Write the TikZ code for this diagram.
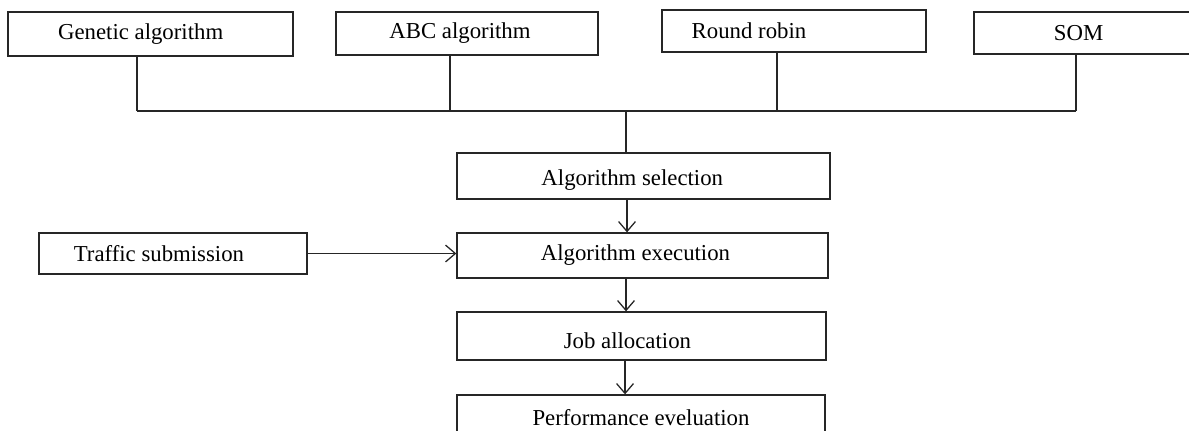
\documentclass[tikz,border=0pt]{standalone}
\usepackage{fontspec}
\setmainfont{Liberation Serif}
\usepackage{tikz}
\usetikzlibrary{positioning,arrows.meta}

\tikzset{
	box/.style={draw=black!85,line width=0.9pt,inner sep=0pt},
	link/.style={draw=black!85,line width=0.9pt},
}

\begin{document}
\begin{tikzpicture}[x=0.025cm,y=-0.025cm,font=\fontsize{16.2}{19}\selectfont,>={Straight Barb[length=7pt,width=12pt]}]
				\useasboundingbox (0,0) rectangle (1189,430);
				\clip (0,0) rectangle (1189,430);
				% top row of methods
				\node[box,minimum width=7.125cm,minimum height=1.1cm,label={[name=gent,xshift=-7pt]center:Genetic algorithm}] (gen) at (150.5,34) {};
				\node[box,minimum width=6.55cm,minimum height=1.075cm,label={[name=abct,xshift=-5pt]center:ABC algorithm}] (abc) at (467,33.5) {};
				\node[box,minimum width=6.6cm,minimum height=1.05cm,label={[name=rrt,xshift=-32pt]center:Round robin}] (rr) at (794,31) {};
				\node[box,minimum width=5.65cm,minimum height=1.05cm,label={[name=somt,xshift=-6pt]center:SOM}] (som) at (1087,33) {};
				% main flow
				\node[box,minimum width=9.325cm,minimum height=1.15cm,label={[name=selt,xshift=-8pt,yshift=-3pt]center:Algorithm selection}] (sel) at (643.5,176) {};
				\node[box,minimum width=9.275cm,minimum height=1.125cm,label={[name=exet,xshift=-5pt]center:Algorithm execution}] (exe) at (642.5,255.5) {};
				\node[box,minimum width=6.7cm,minimum height=1.025cm,label={[name=trat,xshift=-10pt]center:Traffic submission}] (tra) at (173,253.5) {};
				\node[box,minimum width=9.225cm,minimum height=1.2cm,label={[name=jobt,xshift=-10pt,yshift=-3pt]center:Job allocation}] (job) at (641.5,336) {};
				\node[box,minimum width=9.2cm,minimum height=1.25cm,label={[name=perft,yshift=2pt]center:Performance eveluation}] (perf) at (641,420) {};
				% bus
				\coordinate (b1) at (137,111);
				\coordinate (b2) at (450,111);
				\coordinate (b3) at (777,111);
				\coordinate (b4) at (1076,111);
				\coordinate (bus) at (626,111);
				\coordinate (col) at (627,0);
				\draw[link] (gen.south -| b1) -- (b1);
				\draw[link] (abc.south -| b2) -- (b2);
				\draw[link] (rr.south -| b3) -- (b3);
				\draw[link] (som.south -| b4) -- (b4);
				\draw[link] (b1) -- (b4);
				\draw[link] (bus) -- (sel.north -| bus);
				% arrows
				\draw[link,->] (sel.south -| col) -- (exe.north -| col);
				\draw[link,->] (tra.east) -- (tra.east -| exe.west);
				\draw[link,->] ([xshift=-0.7pt]exe.south -| col) -- ([xshift=-0.7pt]job.north -| col);
				\draw[link,->] ([xshift=-1.4pt]job.south -| col) -- ([xshift=-1.4pt]perf.north -| col);
\end{tikzpicture}
\end{document}
